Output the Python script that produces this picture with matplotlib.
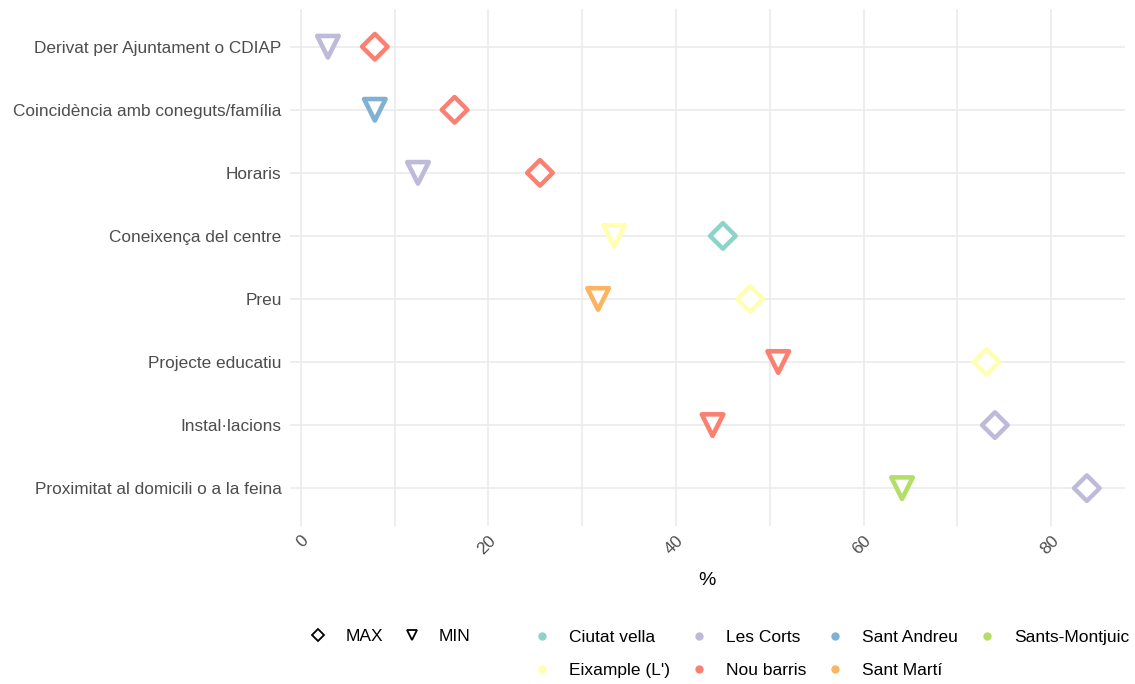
import matplotlib.pyplot as plt
from matplotlib.lines import Line2D

plt.rcParams['font.family'] = ['Liberation Sans', 'DejaVu Sans']

# Data
motius = ['Derivat per Ajuntament o CDIAP', 'Coincidència amb coneguts/família', 'Horaris',
          'Coneixença del centre', 'Preu', 'Projecte educatiu', 'Instal·lacions',
          'Proximitat al domicili o a la feina']
max_val = [7.9, 16.4, 25.5, 45.0, 47.9, 73.1, 74.0, 83.8]
max_districte = ['Nou barris', 'Nou barris', 'Nou barris', 'Ciutat vella', "Eixample (L')",
                 "Eixample (L')", 'Les Corts', 'Les Corts']
min_val = [2.9, 7.9, 12.5, 33.4, 31.7, 50.9, 43.9, 64.1]
min_districte = ['Les Corts', 'Sant Andreu', 'Les Corts', "Eixample (L')", 'Sant Martí',
                 'Nou barris', 'Nou barris', 'Sants-Montjuic']

districtes = ['Ciutat vella', "Eixample (L')", 'Les Corts', 'Nou barris',
              'Sant Andreu', 'Sant Martí', 'Sants-Montjuic']
colors = ['#8DD3C7', '#FFFFB3', '#BEBADA', '#FB8072', '#80B1D3', '#FDB462', '#B3DE69']
cmap = dict(zip(districtes, colors))

fig = plt.figure(figsize=(11.35, 6.84), dpi=100)
ax = fig.add_axes([0.2555, 0.231, 0.7355, 0.756])

y = list(range(len(motius)))[::-1]
ax.scatter(max_val, y, marker='D', s=170, facecolors='white',
           edgecolors=[cmap[d] for d in max_districte], linewidths=3.2, zorder=3)
ax.scatter(min_val, y, marker='v', s=240, facecolors='white',
           edgecolors=[cmap[d] for d in min_districte], linewidths=3.3, zorder=3)

ax.set_yticks(y)
ax.set_yticklabels(motius)
ax.set_xticks([0, 20, 40, 60, 80])
ax.set_xticks([10, 30, 50, 70], minor=True)
lo = min(min_val) - 0.05 * (max(max_val) - min(min_val))
hi = max(max_val) + 0.05 * (max(max_val) - min(min_val))
ax.set_xlim(lo, hi)
ax.set_ylim(-0.6, len(motius) - 0.4)

ax.grid(True, which='both', color='#EBEBEB', linewidth=1.2)
ax.set_axisbelow(True)
for s in ax.spines.values():
    s.set_visible(False)
ax.tick_params(axis='both', which='both', length=0, labelcolor='#4D4D4D', labelsize=12.4)
ax.tick_params(axis='y', pad=6)
ax.tick_params(axis='x', pad=5)
plt.setp(ax.get_xticklabels(), rotation=45, ha='right', va='top', rotation_mode='anchor')
ax.set_xlabel('%', fontsize=14, labelpad=11)

# Legends
shape_handles = [
    Line2D([], [], marker='D', linestyle='', markerfacecolor='white', markeredgecolor='black',
           markersize=6.5, markeredgewidth=1.3),
    Line2D([], [], marker='v', linestyle='', markerfacecolor='white', markeredgecolor='black',
           markersize=7.5, markeredgewidth=1.3),
]
fig.legend(shape_handles, ['MAX', 'MIN'], loc='center left', bbox_to_anchor=(0.259, 0.069),
           ncol=2, frameon=False, fontsize=12.5, handlelength=1.0, handletextpad=1.05,
           columnspacing=1.17)

color_handles = [Line2D([], [], marker='o', linestyle='', markerfacecolor=c, markeredgecolor=c,
                        markersize=5) for c in colors]
fig.legend(color_handles, districtes, loc='center left', bbox_to_anchor=(0.456, 0.044),
           ncol=4, frameon=False, fontsize=12.5, handlelength=1.0, handletextpad=1.05,
           columnspacing=1.17, labelspacing=1.05)

fig.savefig('out.png', dpi=100)
